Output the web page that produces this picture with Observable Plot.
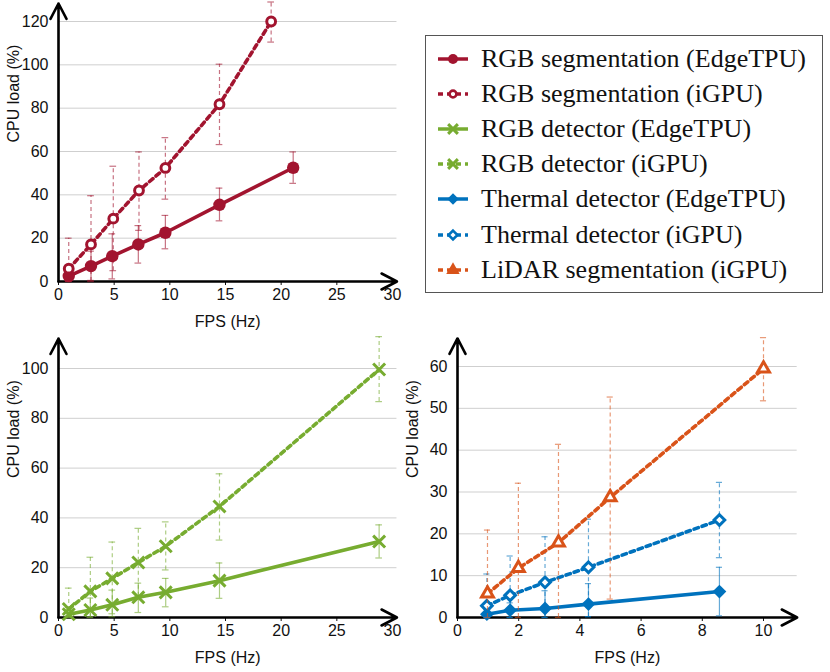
<!DOCTYPE html>
<html><head><meta charset="utf-8">
<script src="https://cdn.jsdelivr.net/npm/d3@7"></script>
<script src="https://cdn.jsdelivr.net/npm/@observablehq/plot@0.6"></script>
<style>
body{margin:0;background:#fff;}
#wrap{position:relative;width:830px;height:672px;overflow:hidden;background:#fff;}
.panel{position:absolute;}
.panel text{font-size:16px !important;font-family:'Liberation Sans',sans-serif !important;}
#legend{position:absolute;left:425px;top:35px;width:396px;height:256px;border:1.3px solid #555;font-family:"Liberation Serif",serif;font-size:26px;color:#111;box-sizing:content-box;}
.row{position:absolute;left:0;height:35px;line-height:35px;white-space:nowrap;}
.row svg{position:absolute;left:10px;top:7px;}
.row span{position:absolute;left:55px;top:0;}
</style></head><body><div id="wrap"></div>
<script>
// ---------- data ----------
const seriesNames = ["RGB segmentation (EdgeTPU)", "RGB segmentation (iGPU)", "RGB detector (EdgeTPU)", "RGB detector (iGPU)", "Thermal detector (EdgeTPU)", "Thermal detector (iGPU)", "LiDAR segmentation (iGPU)"];

const rgbSegEdgeFps  = [0.92, 2.92, 4.83, 7.17, 9.6, 14.46, 21.08];
const rgbSegEdgeLoad = [2.5, 7.1, 11.7, 17.1, 22.5, 35.4, 52.5];
const rgbSegEdgeLo   = [0, 0.5, 1.2, 8.5, 15.1, 28, 45.3];
const rgbSegEdgeHi   = [6, 14, 22, 25.8, 30.5, 43.1, 59.8];

const rgbSegGpuFps  = [0.92, 2.92, 4.92, 7.23, 9.6, 14.46, 19.1];
const rgbSegGpuLoad = [5.9, 17.1, 29, 42, 52.4, 81.8, 120];
const rgbSegGpuLo   = [0, 0, 5, 23.6, 38, 63.2, 110.5];
const rgbSegGpuHi   = [20, 39.6, 53.2, 59.8, 66.4, 100.3, 129];

const rgbDetEdgeFps  = [0.92, 2.86, 4.83, 7.17, 9.63, 14.46, 28.8];
const rgbDetEdgeLoad = [1.3, 3, 5.1, 8.1, 10.1, 14.8, 30.5];
const rgbDetEdgeLo   = [0, 0.3, 0.3, 2, 4.3, 7.7, 23.9];
const rgbDetEdgeHi   = [4, 7.8, 11, 13.8, 15.7, 21.9, 37.2];

const rgbDetGpuFps  = [0.92, 2.86, 4.83, 7.17, 9.63, 14.46, 28.8];
const rgbDetGpuLoad = [3.4, 10.5, 15.7, 22.1, 28.6, 44.6, 99.6];
const rgbDetGpuLo   = [0, 0, 1.5, 8.5, 19.1, 31.1, 86.7];
const rgbDetGpuHi   = [11.8, 24.2, 30.3, 35.8, 38.4, 57.7, 112.8];

const thermEdgeFps  = [0.96, 1.72, 2.86, 4.28, 8.56];
const thermEdgeLoad = [0.8, 1.75, 2.15, 3.2, 6.2];
const thermEdgeLo   = [0, 0, 0, 0.2, 0.4];
const thermEdgeHi   = [2, 3.5, 6.4, 8.1, 12];

const thermGpuFps  = [0.96, 1.72, 2.86, 4.28, 8.56];
const thermGpuLoad = [2.8, 5.3, 8.4, 12, 23.3];
const thermGpuLo   = [0, 0, 0, 0.2, 14.3];
const thermGpuHi   = [10.4, 14.7, 19.3, 23.5, 32.3];

const lidarFps  = [0.98, 1.99, 3.3, 4.99, 10];
const lidarLoad = [5.7, 11.8, 17.9, 28.7, 59.5];
const lidarLo   = [0, 0, 0, 4.4, 51.8];
const lidarHi   = [20.9, 32.1, 41.4, 52.7, 66.9];

const topXTicks = [0, 5, 10, 15, 20, 25, 30];
const topYTicks = [0, 20, 40, 60, 80, 100, 120];
const blXTicks = [0, 5, 10, 15, 20, 25, 30];
const blYTicks = [0, 20, 40, 60, 80, 100];
const brXTicks = [0, 2, 4, 6, 8, 10];
const brYTicks = [0, 10, 20, 30, 40, 50, 60];

const xLabel = "FPS (Hz)";
const yLabel = "CPU load (%)";

// ---------- styles ----------
const RED = "#a2142f", GREEN = "#77ac30", BLUE = "#0072bd", ORANGE = "#d95319";
const series = [
  {name: seriesNames[0], fps: rgbSegEdgeFps, load: rgbSegEdgeLoad, lo: rgbSegEdgeLo, hi: rgbSegEdgeHi, color: RED, dashed: false, symbol: "circle", r: 6.2, open: false, lr: 5},
  {name: seriesNames[1], fps: rgbSegGpuFps, load: rgbSegGpuLoad, lo: rgbSegGpuLo, hi: rgbSegGpuHi, color: RED, dashed: true, symbol: "circle", r: 4.4, open: true, lr: 3.4},
  {name: seriesNames[2], fps: rgbDetEdgeFps, load: rgbDetEdgeLoad, lo: rgbDetEdgeLo, hi: rgbDetEdgeHi, color: GREEN, dashed: false, symbol: "times", r: 5.5, cross: true, lr: 4.5},
  {name: seriesNames[3], fps: rgbDetGpuFps, load: rgbDetGpuLoad, lo: rgbDetGpuLo, hi: rgbDetGpuHi, color: GREEN, dashed: true, symbol: "times", r: 5.5, cross: true, lr: 4.5},
  {name: seriesNames[4], fps: thermEdgeFps, load: thermEdgeLoad, lo: thermEdgeLo, hi: thermEdgeHi, color: BLUE, dashed: false, symbol: "diamond2", r: 6.2, open: false, lr: 5.2},
  {name: seriesNames[5], fps: thermGpuFps, load: thermGpuLoad, lo: thermGpuLo, hi: thermGpuHi, color: BLUE, dashed: true, symbol: "diamond2", r: 4.8, open: true, lr: 4},
  {name: seriesNames[6], fps: lidarFps, load: lidarLoad, lo: lidarLo, hi: lidarHi, color: ORANGE, dashed: true, symbol: "triangle", r: 4.4, open: true, legendFilled: true, lr: 5}
];

function rowsOf(s) {
  return s.fps.map((f, i) => ({x: f, y: s.load[i], lo: s.lo[i], hi: s.hi[i]}));
}

function seriesMarks(s, cap) {
  const rows = rowsOf(s);
  const eb = {stroke: s.color, strokeOpacity: 0.6, strokeWidth: 1.2};
  const marks = [
    Plot.ruleX(rows, {x: "x", y1: "lo", y2: "hi", ...eb, strokeDasharray: s.dashed ? "4,3" : null}),
    Plot.ruleY(rows, {y: "hi", x1: d => d.x - cap, x2: d => d.x + cap, ...eb}),
    Plot.ruleY(rows, {y: "lo", x1: d => d.x - cap, x2: d => d.x + cap, ...eb}),
    Plot.line(rows, {x: "x", y: "y", stroke: s.color, strokeWidth: 3.6, strokeDasharray: s.dashed ? "4.5,4" : null})
  ];
  if (s.cross) {
    marks.push(Plot.dot(rows, {x: "x", y: "y", symbol: "times", r: s.r, stroke: s.color, strokeWidth: 3, fill: "none"}));
  } else if (s.open) {
    marks.push(Plot.dot(rows, {x: "x", y: "y", symbol: s.symbol, r: s.r, fill: "white", stroke: s.color, strokeWidth: 3}));
  } else {
    marks.push(Plot.dot(rows, {x: "x", y: "y", symbol: s.symbol, r: s.r, fill: s.color, stroke: "none"}));
  }
  return marks;
}

function panel(cfg) {
  const {width, height, ml, mr, mt, mb, xDomain, yDomain, xTicks, yTicks, xArrow, yArrow, cap, list, left, top} = cfg;
  const frameRight = width - mr;
  const xpx = (width - ml - mr) / (xDomain[1] - xDomain[0]);
  const ypx = (height - mt - mb) / (yDomain[1] - yDomain[0]);
  const arrowRightPx = ml + (xArrow - xDomain[0]) * xpx;
  const arrowTopPx = (height - mb) - (yArrow - yDomain[0]) * ypx;
  const p = Plot.plot({
    width, height,
    marginLeft: ml, marginRight: mr, marginTop: mt, marginBottom: mb,
    x: {domain: xDomain},
    y: {domain: yDomain},
    style: {fontFamily: "'Liberation Sans', sans-serif", fontSize: "16px", background: "transparent", overflow: "visible", color: "#111"},
    marks: [
      Plot.ruleY(yTicks.filter(t => t > 0), {x1: xDomain[0], x2: xArrow, stroke: "#cfcfcf", strokeWidth: 1}),
      Plot.axisX({ticks: xTicks, tickSize: 4, tickPadding: 3, label: null, fontSize: 16}),
      Plot.axisY({ticks: yTicks, tickSize: 0, tickPadding: 10, label: null, fontSize: 16}),
      Plot.arrow([{a: xDomain[0], b: yDomain[0], c: xArrow, d: yDomain[0]}], {x1: "a", y1: "b", x2: "c", y2: "d", stroke: "black", strokeWidth: 2.6, headLength: 10, headAngle: 55}),
      Plot.arrow([{a: xDomain[0], b: yDomain[0], c: xDomain[0], d: yArrow}], {x1: "a", y1: "b", x2: "c", y2: "d", stroke: "black", strokeWidth: 2.6, headLength: 10, headAngle: 55}),
      ...list.flatMap(i => seriesMarks(series[i], cap)),
      Plot.text([yLabel], {text: d => d, frameAnchor: "left", rotate: -90, dx: -45, dy: -(mt - arrowTopPx) / 2, fontSize: 16}),
      Plot.text([xLabel], {text: d => d, frameAnchor: "bottom", dy: 40, dx: (arrowRightPx - frameRight) / 2, lineAnchor: "middle", fontSize: 16})
    ]
  });
  p.classList.add("panel");
  p.style.left = left + "px";
  p.style.top = top + "px";
  return p;
}

const wrap = document.getElementById("wrap");
wrap.appendChild(panel({left: 0, top: 0, width: 410, height: 335, ml: 58, mr: 18, mt: 21, mb: 54,
  xDomain: [0, 30], yDomain: [0, 120], xTicks: topXTicks, yTicks: topYTicks, xArrow: 30.4, yArrow: 128.3, cap: 0.3, list: [0, 1]}));
wrap.appendChild(panel({left: 0, top: 330, width: 410, height: 342, ml: 58, mr: 18, mt: 38, mb: 55,
  xDomain: [0, 30], yDomain: [0, 100], xTicks: blXTicks, yTicks: blYTicks, xArrow: 30.4, yArrow: 112, cap: 0.3, list: [2, 3]}));
wrap.appendChild(panel({left: 400, top: 330, width: 430, height: 342, ml: 57, mr: 67, mt: 36, mb: 55,
  xDomain: [0, 10], yDomain: [0, 60], xTicks: brXTicks, yTicks: brYTicks, xArrow: 11.1, yArrow: 66.7, cap: 0.1, list: [4, 5, 6]}));

// ---------- legend ----------
const legend = d3.select(wrap).append("div").attr("id", "legend");
const symMap = {circle: d3.symbolCircle, times: d3.symbolTimes, diamond2: d3.symbolDiamond2, triangle: d3.symbolTriangle};
series.forEach((s, i) => {
  const row = legend.append("div").attr("class", "row").style("top", (4.5 + i * 35.2) + "px");
  const svg = row.append("svg").attr("width", 34).attr("height", 22);
  svg.append("line").attr("x1", 2).attr("x2", 32).attr("y1", 11).attr("y2", 11)
    .attr("stroke", s.color).attr("stroke-width", 3.5).attr("stroke-dasharray", s.dashed ? "5,4" : null);
  const r = s.lr;
  const path = d3.symbol(symMap[s.symbol], Math.PI * r * r)();
  const g = svg.append("path").attr("d", path).attr("transform", "translate(17,11)");
  if (s.cross) g.attr("fill", "none").attr("stroke", s.color).attr("stroke-width", 3);
  else if (s.open && !s.legendFilled) g.attr("fill", "white").attr("stroke", s.color).attr("stroke-width", 2.6);
  else g.attr("fill", s.color);
  row.append("span").text(s.name);
});
</script>
</body></html>
